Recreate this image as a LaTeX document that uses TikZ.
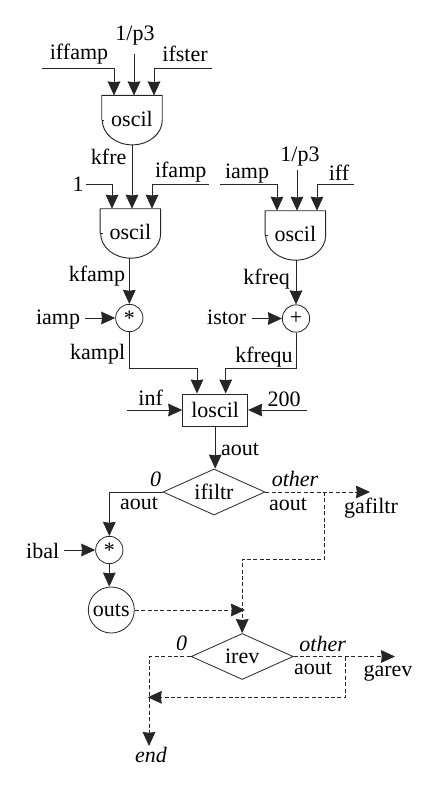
\documentclass[tikz,border=0pt]{standalone}
\usepackage{fontspec}
\setmainfont{Liberation Serif}
\usetikzlibrary{arrows.meta,shapes.geometric}
\tikzset{
  x=0.75pt,y=-0.75pt,
  every node/.style={font=\fontsize{16.5}{18}\selectfont,text=black},
  lab/.style={anchor=base,inner sep=0pt},
  itlab/.style={anchor=base,inner sep=0pt,font=\fontsize{16.5}{18}\selectfont\itshape},
  wire/.style={line width=0.7pt,draw=black!85},
  arrowwire/.style={wire,-{Stealth[length=10.5pt,width=9.5pt,inset=0.6pt]}},
  dashwire/.style={wire,dash pattern=on 3pt off 1.8pt},
  dasharrow/.style={dashwire,-{Stealth[length=10.5pt,width=9.5pt,inset=0.6pt]}},
  oscbox/.style={rectangle,inner sep=0pt,minimum width=45pt,text height=22.75pt,text depth=14pt},
  sumnode/.style={circle,draw=black!85,line width=0.6pt,inner sep=0pt,minimum size=20.5pt},
  bigcircle/.style={circle,draw=black!85,line width=0.6pt,inner sep=0pt,minimum size=34.5pt},
  boxnode/.style={rectangle,draw=black!85,line width=0.7pt,inner sep=0pt,minimum width=48.75pt,minimum height=24pt},
  decide/.style={diamond,aspect=1.5,draw=black!85,line width=0.6pt,inner sep=0pt,minimum width=76.5pt,minimum height=34.5pt},
}
\newcommand{\oscshape}[1]{%
  \draw[wire,line join=round] (#1.west) -- (#1.north west) -- (#1.north east) -- (#1.east)
    arc[start angle=0,end angle=-180,x radius=22.5pt,y radius=18.5pt];
  \draw[wire] (#1.west) -- ++(2.5,0);
}
\begin{document}
\begin{tikzpicture}
\useasboundingbox (0,0) rectangle (439,788);
\fill[white] (0,0) rectangle (439,788);

% oscillators
\node[oscbox] (oscA) at (132,120.2) {oscil};
\node[oscbox] (oscB) at (130.4,233.5) {oscil};
\node[oscbox] (oscC) at (295.4,235.5) {oscil};
\oscshape{oscA}\oscshape{oscB}\oscshape{oscC}

% operators
\node[sumnode] (mulA) at (129.3,318) {*};
\node[sumnode] (addA) at (296,318.5) {+};
\node[boxnode] (losc) at (215.2,410) {loscil};
\node[decide] (filt) at (214,492) {ifiltr};
\node[sumnode] (mulB) at (109.3,550) {*};
\node[bigcircle] (outs) at (111.3,610) {outs};
\node[decide] (irev) at (242.2,656.5) {irev};

% labels
\node[lab] (t1) at (79,60) {iffamp};
\node[lab] (t2) at (135,40.7) {1/p3};
\node[lab] (t3) at (185,61.7) {ifster};
\node[lab] (t4) at (108.7,165) {kfre};
\node[lab] (t5) at (78,191.7) {1};
\node[lab] (t6) at (180.7,177.7) {ifamp};
\node[lab] (t7) at (247,178) {iamp};
\node[lab] (t8) at (300,161.7) {1/p3};
\node[lab] (t9) at (339,180.7) {iff};
\node[lab] (t10) at (266.7,284) {kfreq};
\node[lab] (t11) at (97,281.7) {kfamp};
\node[lab] (t12) at (58,324) {iamp};
\node[lab] (t13) at (226.7,324) {istor};
\node[lab] (t14) at (97.7,359) {kampl};
\node[lab] (t15) at (264,362) {kfrequ};
\node[lab] (t16) at (150.7,405) {inf};
\node[lab] (t17) at (284,406) {200};
\node[lab] (t18) at (240,455) {aout};
\node[itlab] (t19) at (155.7,486) {0};
\node[itlab] (t20) at (295,486) {other};
\node[lab] (t21) at (139,509) {aout};
\node[lab] (t22) at (288,510) {aout};
\node[lab] (t23) at (371,513) {gafiltr};
\node[lab] (t24) at (42.7,558) {ibal};
\node[itlab] (t25) at (181.7,650.7) {0};
\node[itlab] (t26) at (322.7,651.7) {other};
\node[lab] (t27) at (313,674) {aout};
\node[lab] (t28) at (388,676.7) {garev};
\node[itlab] (t29) at (151,762) {end};

% free ends and elbows
\coordinate (a1) at (42,68);   \coordinate (a2) at (114,68);
\coordinate (a3) at (134,54);
\coordinate (a4) at (212,68);  \coordinate (a5) at (154,68);
\coordinate (b1) at (85.7,184);\coordinate (b2) at (112,184);
\coordinate (b3) at (209,184); \coordinate (b4) at (152,184);
\coordinate (c1) at (220,184); \coordinate (c2) at (277,184);
\coordinate (c3) at (297,170);
\coordinate (c4) at (354,184); \coordinate (c5) at (317,184);
\coordinate (d1) at (85,318);
\coordinate (d2) at (251.7,318.5);
\coordinate (e1) at (197,368); \coordinate (e2) at (225.7,368);
\coordinate (f1) at (127,410);
\coordinate (f2) at (306.7,410);
\coordinate (g1) at (109.3,492);
\coordinate (g2) at (370,492);
\coordinate (g3) at (324.7,492);
\coordinate (g4) at (324.7,559);
\coordinate (g5) at (242.2,559);
\coordinate (h1) at (64,550);
\coordinate (h2) at (245,610);
\coordinate (k1) at (149,656.5);
\coordinate (k2) at (149,746);
\coordinate (k3) at (395,656.5);
\coordinate (k4) at (345.3,656.5);
\coordinate (k5) at (345.3,697.3);
\coordinate (k6) at (147.7,697.3);

% solid connectors
\draw[arrowwire] (a1) -- (a2) -- (a2 |- oscA.north);
\draw[arrowwire] (a3) -- (a3 |- oscA.north);
\draw[arrowwire] (a4) -- (a5) -- (a5 |- oscA.north);
\draw[arrowwire] (b1) -- (b2) -- (b2 |- oscB.north);
\draw[arrowwire] (oscA.south) -- (oscA.south |- oscB.north);
\draw[arrowwire] (b3) -- (b4) -- (b4 |- oscB.north);
\draw[arrowwire] (c1) -- (c2) -- (c2 |- oscC.north);
\draw[arrowwire] (c3) -- (c3 |- oscC.north);
\draw[arrowwire] (c4) -- (c5) -- (c5 |- oscC.north);
\draw[arrowwire] (mulA.north |- oscB.south) -- (mulA.north);
\draw[arrowwire] (addA.north |- oscC.south) -- (addA.north);
\draw[arrowwire] (d1) -- (mulA.west);
\draw[arrowwire] (d2) -- (addA.west);
\draw[arrowwire] (mulA.south) |- (e1) -- (e1 |- losc.north);
\draw[arrowwire] (addA.south) |- (e2) -- (e2 |- losc.north);
\draw[arrowwire] (f1) -- (losc.west);
\draw[arrowwire] (f2) -- (losc.east);
\draw[arrowwire] (losc.south) -- (losc.south |- filt.north);
\draw[arrowwire] (filt.west) -- (g1) -- (mulB.north);
\draw[arrowwire] (h1) -- (mulB.west);
\draw[arrowwire] (mulB.south) -- (mulB.south |- outs.north);

% dashed connectors
\draw[dasharrow] (filt.east) -- (g2);
\draw[dasharrow] (g3) -- (g4) -- (g5) -- (irev.north);
\draw[dasharrow] (outs.east) -- (h2);
\draw[dasharrow] (irev.west) -- (k1) -- (k2);
\draw[dasharrow] (irev.east) -- (k3);
\draw[dasharrow] (k4) -- (k5) -- (k6);
\end{tikzpicture}
\end{document}
